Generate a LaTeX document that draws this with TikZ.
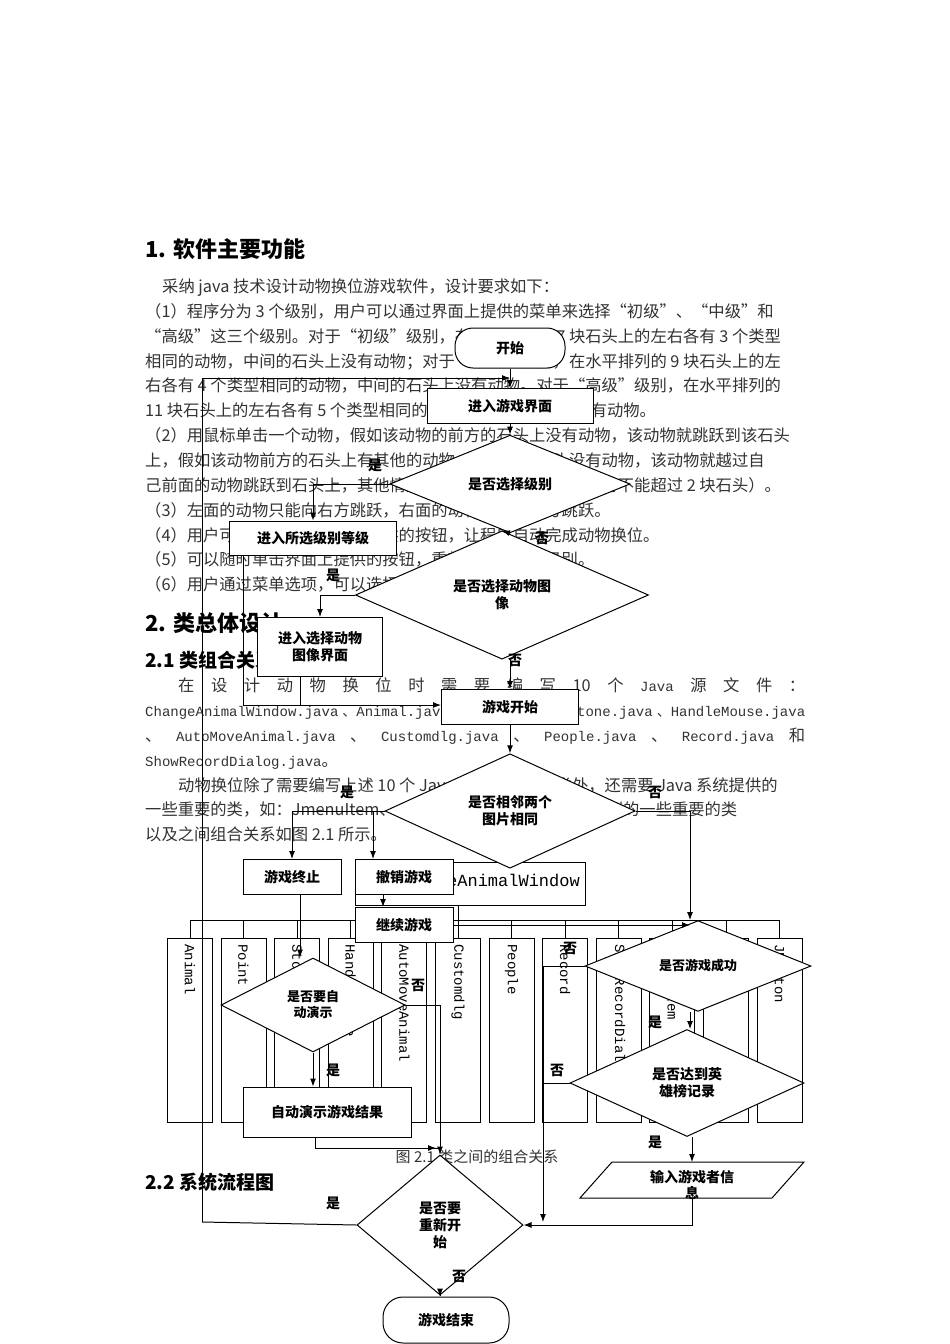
\documentclass[tikz,border=0pt]{standalone}
\usepackage{fontspec}
\setmainfont{Noto Sans CJK SC}
\newfontfamily\monof{Liberation Mono}
\usetikzlibrary{shapes.geometric,arrows.meta}
\begin{document}
\begin{tikzpicture}[x=1pt,y=-1pt,
  bodyt/.style={anchor=base west,inner sep=0,text=black!80,font=\fontsize{16.3}{18}\selectfont},
  headt/.style={anchor=base west,inner sep=0,font=\bfseries\fontsize{22}{25}\selectfont},
  subt/.style={anchor=base west,inner sep=0,font=\bfseries\fontsize{19}{22}\selectfont},
  cls/.style={draw,thick,minimum width=45pt,minimum height=184pt,anchor=north west,inner sep=0},
  clst/.style={inner sep=0,rotate=-90,anchor=west,font=\monof\fontsize{14}{16}\selectfont},
  fbox/.style={draw,fill=white,line width=1pt,inner sep=1pt,align=center,font=\bfseries\fontsize{14}{17}\selectfont},
  fdia/.style={draw,fill=white,diamond,line width=1pt,inner sep=0,align=center,font=\bfseries\fontsize{14}{17}\selectfont},
  lbl/.style={font=\bfseries\fontsize{14}{16}\selectfont,inner sep=0},
  ln/.style={line width=1pt},
  ar/.style={line width=1pt,-{Latex[length=8pt,width=6pt]}}]
\useasboundingbox (0,0) rectangle (950,1344);
\fill[white] (0,0) rectangle (950,1344);
% ---- document text ----
\node[headt] at (145,257) {1. 软件主要功能};
\node[bodyt] at (162,292) {采纳 java 技术设计动物换位游戏软件，设计要求如下：};
\node[bodyt] at (145,317) {（1）程序分为 3 个级别，用户可以通过界面上提供的菜单来选择“初级”、“中级”和};
\node[bodyt] at (145,342) {“高级”这三个级别。对于“初级”级别，在水平排列的 7 块石头上的左右各有 3 个类型};
\node[bodyt] at (145,367) {相同的动物，中间的石头上没有动物；对于“中级”级别，在水平排列的 9 块石头上的左};
\node[bodyt] at (145,391) {右各有 4 个类型相同的动物，中间的石头上没有动物。对于“高级”级别，在水平排列的};
\node[bodyt] at (145,416) {11 块石头上的左右各有 5 个类型相同的动物，中间的石头上没有动物。};
\node[bodyt] at (145,441) {（2）用鼠标单击一个动物，假如该动物的前方的石头上没有动物，该动物就跳跃到该石头};
\node[bodyt] at (145,466) {上，假如该动物前方的石头上有其他的动物，但隔位的石头没有动物，该动物就越过自};
\node[bodyt] at (145,491) {己前面的动物跳跃到石头上，其他情形时该动物不能跳跃（跳跃时不能超过 2 块石头）。};
\node[bodyt] at (145,516) {（3）左面的动物只能向右方跳跃，右面的动物只能向左方跳跃。};
\node[bodyt] at (145,541) {（4）用户可以通过单击界面上提供的按钮，让程序自动完成动物换位。};
\node[bodyt] at (145,565) {（5）可以随时单击界面上提供的按钮，重新开始当前的级别。};
\node[bodyt] at (145,590) {（6）用户通过菜单选项，可以选择动物的图像。};
\node[headt] at (145,631) {2. 类总体设计};
\node[subt] at (145,667) {2.1 类组合关系};
\node[bodyt] at (178,691) {\hbox to 627pt{在\hfill 设\hfill 计\hfill 动\hfill 物\hfill 换\hfill 位\hfill 时\hfill 需\hfill 要\hfill 编\hfill 写\hfill 10\hfill 个\hfill {\monof\fontsize{14}{16}\selectfont Java}\hfill 源\hfill 文\hfill 件\hfill ：}};
\node[bodyt] at (145,716) {\hbox to 660pt{\monof\fontsize{14}{16}\selectfont ChangeAnimalWindow.java\hfill \rmfamily、\monof Animal.java\hfill \rmfamily、\monof Point.java\hfill \rmfamily、\monof Stone.java\hfill \rmfamily、\monof HandleMouse.java}};
\node[bodyt] at (145,741) {\hbox to 660pt{、\hfill {\monof\fontsize{14}{16}\selectfont AutoMoveAnimal.java}\hfill 、\hfill {\monof\fontsize{14}{16}\selectfont Customdlg.java}\hfill 、\hfill {\monof\fontsize{14}{16}\selectfont People.java}\hfill 、\hfill {\monof\fontsize{14}{16}\selectfont Record.java}\hfill 和}};
\node[bodyt] at (145,766) {{\monof\fontsize{14}{16}\selectfont ShowRecordDialog.java}。};
\node[bodyt] at (178,791) {动物换位除了需要编写上述 10 个 Java 源文件给出的类外，还需要 Java 系统提供的};
\node[bodyt] at (145,815) {一些重要的类，如：JmenuItem、JButton 等类。动物换位所用到的一些重要的类};
\node[bodyt] at (145,840) {以及之间组合关系如图 2.1 所示。};
% ---- class diagram ----
\node[draw,thick,minimum width=230pt,minimum height=43pt,anchor=north west,inner sep=0] (caw) at (355,862) {};
\node[anchor=east,inner sep=0,font=\monof\fontsize{17}{19}\selectfont] at (580,882) {ChangeAnimalWindow};
\draw[thick] (458,905) -- (458,920);
\draw[thick] (190,920) -- (780,920);
\foreach \n [count=\i from 0] in {Animal,Point,Stone,HandleMouse,AutoMoveAnimal,Customdlg,People,Record,ShowRecordDialog,JMenuItem,Menu,JButton}{
  \pgfmathsetmacro{\xx}{167+\i*53.6}
  \node[cls] (c\i) at (\xx,938) {};
  \draw[thick] (c\i.north) -- ++(0,-18);
  \node[clst] at ([yshift=-6pt]c\i.north) {\n};
}
\node[inner sep=0,text=black!80,font=\fontsize{15}{17}\selectfont] at (477,1157) {图 2.1 类之间的组合关系};
\node[subt] at (145,1189) {2.2 系统流程图};
% ---- flowchart ----
\node[fbox,rounded corners=18pt,minimum width=110pt,minimum height=40pt] (start) at (510,348) {开始};
\node[fbox,minimum width=166pt,minimum height=35pt] (ui) at (510,406) {进入游戏界面};
\node[fdia,minimum width=240pt,minimum height=75pt] (d1) at (510,484) {是否选择级别};
\node[fbox,minimum width=167pt,minimum height=34pt] (lvl) at (313,538) {进入所选级别等级};
\node[fdia,minimum width=293pt,minimum height=94pt] (d2) at (502,595) {是否选择动物图\\像};
\node[fbox,minimum width=125pt,minimum height=59pt] (pic) at (320,647) {进入选择动物\\图像界面};
\node[fbox,minimum width=137pt,minimum height=35pt] (go) at (510,707) {游戏开始};
\node[fdia,minimum width=250pt,minimum height=94pt] (d3) at (510,811) {是否相邻两个\\图片相同};
\node[fbox,minimum width=98pt,minimum height=35pt] (stop) at (292,877) {游戏终止};
\node[fbox,minimum width=98pt,minimum height=35pt] (undo) at (404,877) {撤销游戏};
\node[fbox,minimum width=98pt,minimum height=35pt] (cont) at (404,925) {继续游戏};
\node[fdia,minimum width=184pt,minimum height=94pt,font=\bfseries\fontsize{13}{16}\selectfont] (d4) at (313,1005) {是否要自\\动演示};
\node[fbox,minimum width=168pt,minimum height=50pt] (auto) at (327,1112) {自动演示游戏结果};
\node[fdia,minimum width=226pt,minimum height=70pt,font=\bfseries\fontsize{13}{16}\selectfont] (d5) at (698,966) {是否游戏成功};
\node[fdia,minimum width=234pt,minimum height=107pt] (d6) at (687,1083) {是否达到英\\雄榜记录};
\draw[line width=1pt,fill=white] (612,1162) -- (804,1162) -- (772,1198) -- (580,1198) -- cycle;
\coordinate (inpN) at (692,1162);
\coordinate (inpS) at (692,1198);
\node[lbl,align=center,anchor=north] (inp) at (692,1170) {输入游戏者信\\息};
\node[fdia,minimum width=166pt,minimum height=140pt] (d7) at (440,1225) {是否要\\重新开\\始};
\node[fbox,rounded corners=20pt,minimum width=126pt,minimum height=46pt] (end) at (446,1320) {游戏结束};
% connectors
\coordinate (loopin) at (510,378);
\coordinate (join) at (441,705);
\coordinate (brA) at (373,811);
\coordinate (leftL) at (202,1222);
\coordinate (xno) at (543,966);
\coordinate (jn2) at (440,1148);
\coordinate (d4r) at (440,1005);
\draw[ar] (start) -- (ui);
\draw[ar] (ui) -- (d1);
\draw[ar] (d1.west) -| (lvl.north);
\draw[ar] (d1.south) -- (d2.north);
\draw[ar] (d2.west) -| (pic.north);
\draw[ar] (d2.south -| go.north) -- (go.north);
\draw[ln] (lvl.south -| 243,0) -- (243,705);
\draw[ln] (pic.south -| 300,0) -- (300,705);
\draw[ar] (243,705) -- (go.west |- join);
\draw[ar] (go) -- (d3);
\draw[ar] (d3.west) -| (stop.north);
\draw[ar] (brA) -- (brA |- undo.north);
\draw[ar] (d3.east) -| (d5.north -| 690,0);
\draw[ar] (undo.south -| 383,0) -- (cont.north -| 383,0);
\draw[ar] (cont.east) -- (690,925);
\draw[ar] (stop.south -| 300,0) -- (d4.north -| 300,0);
\draw[ar] (d4.south) -- (d4.south |- auto.north);
\draw[ln] (d4.east) -- (d4r);
\draw[ar] (d4r) -- (d7.north);
\draw[ln] (auto.south -| 315,0) |- (jn2);
\draw[ar] (315,1148) -- (436,1148);
\draw[ar] (d5.south -| 690,0) -- (d6.north -| 690,0);
\draw[ln] (d5.west) -- (xno);
\draw[ar] (xno) -- (543,1222);
\draw[ln] (d6.west) -- (543,1083);
\draw[ar] (d6.south -| 692,0) -- (inpN);
\draw[ar] (inpS) |- (d7.east);
\draw[ln] (d7.west) -- (leftL);
\draw[ar] (leftL) |- (loopin);
\draw[ar] (d7.south) -- (d7.south |- end.north);
% labels
\node[lbl] at (375,465) {是};
\node[lbl] at (542,538) {否};
\node[lbl] at (333,575) {是};
\node[lbl] at (515,660) {否};
\node[lbl] at (347,792) {是};
\node[lbl] at (655,792) {否};
\node[lbl] at (418,985) {否};
\node[lbl] at (333,1070) {是};
\node[lbl] at (570,948) {否};
\node[lbl] at (655,1022) {是};
\node[lbl] at (557,1070) {否};
\node[lbl] at (655,1142) {是};
\node[lbl] at (333,1203) {是};
\node[lbl] at (459,1276) {否};
\end{tikzpicture}
\end{document}
